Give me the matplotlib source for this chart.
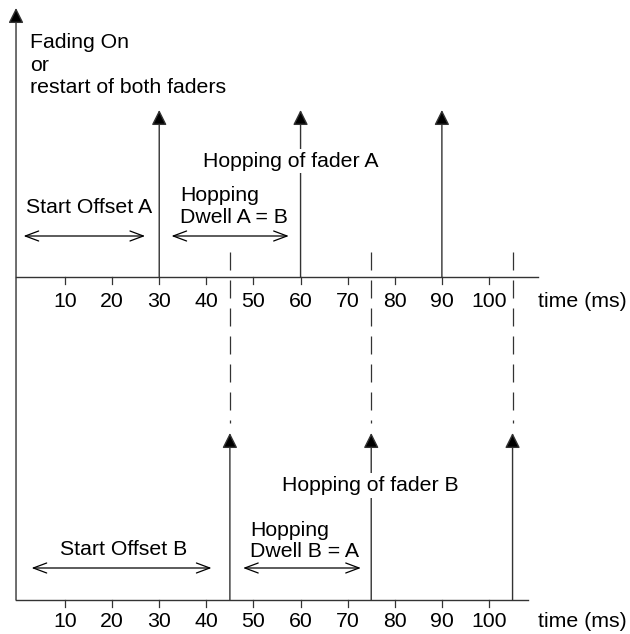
import matplotlib.pyplot as plt

plt.rcParams['font.family'] = ['Liberation Sans', 'DejaVu Sans']

# time axis (ms)
ticks = [10, 20, 30, 40, 50, 60, 70, 80, 90, 100]
hops_a = [30, 60, 90]          # hopping instants of fader A
hops_b = [45, 75, 105]         # hopping instants of fader B

# annotated spans (ms)
offset_a = (1.2, 27.0)
dwell_a = (32.6, 57.5)
offset_b = (2.9, 41.1)
dwell_b = (47.8, 72.8)

# layout: x in ms, y in pixel rows (top = 0)
PX0, PXS = 17.9, 4.711
Y_TOP, Y_BOT = 277, 600
FS = 15.3
LC = '#333333'

fig = plt.figure(figsize=(6.3, 6.34), dpi=100)
ax = fig.add_axes([0, 0, 1, 1])
ax.set_xlim(-PX0 / PXS, (630 - PX0) / PXS)
ax.set_ylim(634, 0)
ax.axis('off')


def arrow_up(x, y0, y1, lw=1.0):
    ax.annotate('', xy=(x, y1), xytext=(x, y0),
                arrowprops=dict(arrowstyle='-|>,head_length=0.4,head_width=0.2',
                                mutation_scale=23, lw=lw, color=LC,
                                fc='black', ec=LC, shrinkA=0, shrinkB=0))


def span(x0, x1, y):
    ax.annotate('', xy=(x1, y), xytext=(x0, y),
                arrowprops=dict(arrowstyle='<->,head_length=0.4,head_width=0.15',
                                mutation_scale=24, lw=0.9, color='black',
                                shrinkA=0, shrinkB=0))


# vertical axis
arrow_up(-0.4, Y_BOT, 8)

# time axes
ax.plot([-0.4, 110.4], [Y_TOP, Y_TOP], color=LC, lw=1.0)
ax.plot([-0.4, 108.2], [Y_BOT, Y_BOT], color=LC, lw=1.0)
for y0, yl in [(Y_TOP, 306.7), (Y_BOT, 626.7)]:
    for t in ticks:
        ax.plot([t, t], [y0, y0 + 7], color=LC, lw=0.9)
        ax.text(t, yl, str(t), ha='center', va='baseline', fontsize=FS)
    ax.text(110.3, yl, 'time (ms)', ha='left', va='baseline', fontsize=FS)

# hop events
for t in hops_a:
    arrow_up(t, Y_TOP, 110)
for t in hops_b:
    arrow_up(t, Y_BOT, 433)
    ax.plot([t, t], [252, 423], color=LC, lw=0.9, ls=(0, (14.4, 8)))

# labels
ax.text(2.57, 93.3, 'Fading On\nor\nrestart of both faders', ha='left', va='baseline',
        fontsize=FS, linespacing=1.25)

ax.text(1.72, 213.3, 'Start Offset A', ha='left', va='baseline', fontsize=FS)
span(*offset_a, 236)
ax.text(34.4, 222.7, 'Hopping\nDwell A = B', ha='left', va='baseline', fontsize=FS,
        linespacing=1.15)
span(*dwell_a, 236)
ax.text(39.2, 166.7, 'Hopping of fader A', ha='left', va='baseline', fontsize=FS,
        bbox=dict(facecolor='white', edgecolor='none', pad=2))

ax.text(8.94, 555, 'Start Offset B', ha='left', va='baseline', fontsize=FS)
span(*offset_b, 568)
ax.text(49.3, 557.3, 'Hopping\nDwell B = A', ha='left', va='baseline', fontsize=FS,
        linespacing=1.15)
span(*dwell_b, 568)
ax.text(56.0, 491, 'Hopping of fader B', ha='left', va='baseline', fontsize=FS,
        bbox=dict(facecolor='white', edgecolor='none', pad=2))

fig.savefig('out.png', dpi=100)
